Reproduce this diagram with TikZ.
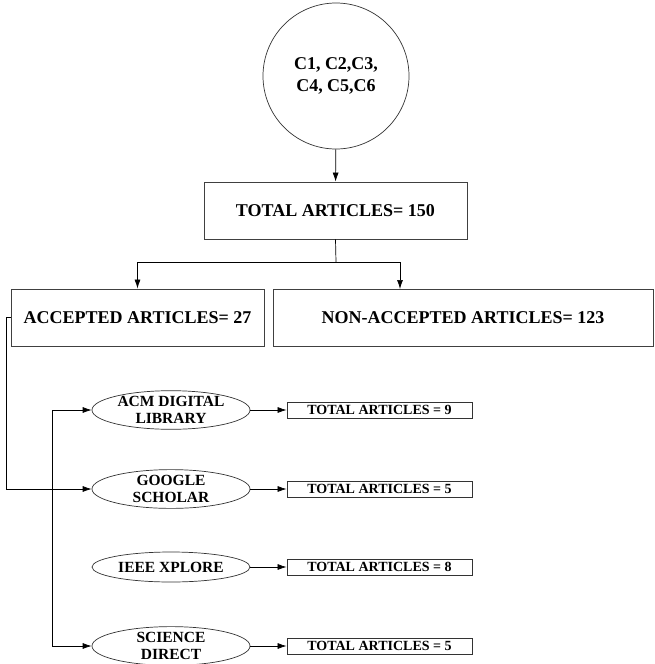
\documentclass[tikz,border=0pt]{standalone}
\usepackage{fontspec}
\setmainfont{Liberation Serif}
\usetikzlibrary{arrows.meta}
\usetikzlibrary{shapes.geometric}

\tikzset{
  box/.style={draw=black!75, line width=0.8pt, rectangle, inner sep=0pt, font=\bfseries\fontsize{18}{21}\selectfont},
  dbase/.style={draw=black!80, line width=0.7pt, ellipse, inner sep=0pt, minimum width=158pt, minimum height=30pt, align=center, font=\bfseries\fontsize{15.5}{17}\selectfont},
  countbox/.style={draw=black!80, line width=0.8pt, rectangle, inner sep=0pt, minimum width=185pt, minimum height=16pt, font=\bfseries\fontsize{14}{16}\selectfont},
  link/.style={line width=0.7pt, -{Latex[length=9pt,width=6pt]}}
}

\begin{document}
\begin{tikzpicture}[x=1pt,y=-1pt]
    \useasboundingbox (0,0) rectangle (654,664);
    \node[draw=black!80, line width=0.7pt, circle, minimum size=146pt, inner sep=0pt, align=center, font=\bfseries\fontsize{18}{22}\selectfont] (src) at (336,76) {C1, C2,C3,\\C4, C5,C6};  %Kategorien
    \node[box, minimum width=263pt, minimum height=57pt] (total) at (335.5,210.5) {TOTAL ARTICLES= 150};
    \node[box, minimum width=253pt, minimum height=57pt] (acc) at (137.5,317.5) {ACCEPTED ARTICLES= 27};
    \node[box, minimum width=380pt, minimum height=57pt] (non) at (463,317.5) {NON-ACCEPTED ARTICLES= 123};
    \coordinate (split) at (336,262);  %Verzweigung
    \coordinate (nonin) at (400,289);
    \coordinate (bus) at (52,528);  %senkrechte Linie links
    \draw[link] (src) -- (total);
    \draw[line width=0.7pt] (total.south) -- (split);
    \draw[link] (split) -| (acc.north);
    \draw[link] (split) -| (nonin);
    \foreach \y/\name/\db/\n in
    {
      410/g1/{ACM DIGITAL\\LIBRARY}/9,  %\y ist die Zeile
      489/g2/{GOOGLE\\SCHOLAR}/5,
      567/g3/{IEEE XPLORE}/8,
      646/g4/{SCIENCE\\DIRECT}/5
    }
    {
      \node[dbase] (\name) at (171,\y) {\db};  %Datenbank
      \node[countbox] (\name c) at (379.5,\y) {TOTAL ARTICLES = \n};  %Anzahl
      \draw[link] (\name) -- (\name c);
    };
    \draw[link] (acc.west) -- ++(-4,0) |- (g2.west);
    \draw[link] (bus) |- (g1.west);
    \draw[link] (bus) |- (g4.west);
\end{tikzpicture}
\end{document}
